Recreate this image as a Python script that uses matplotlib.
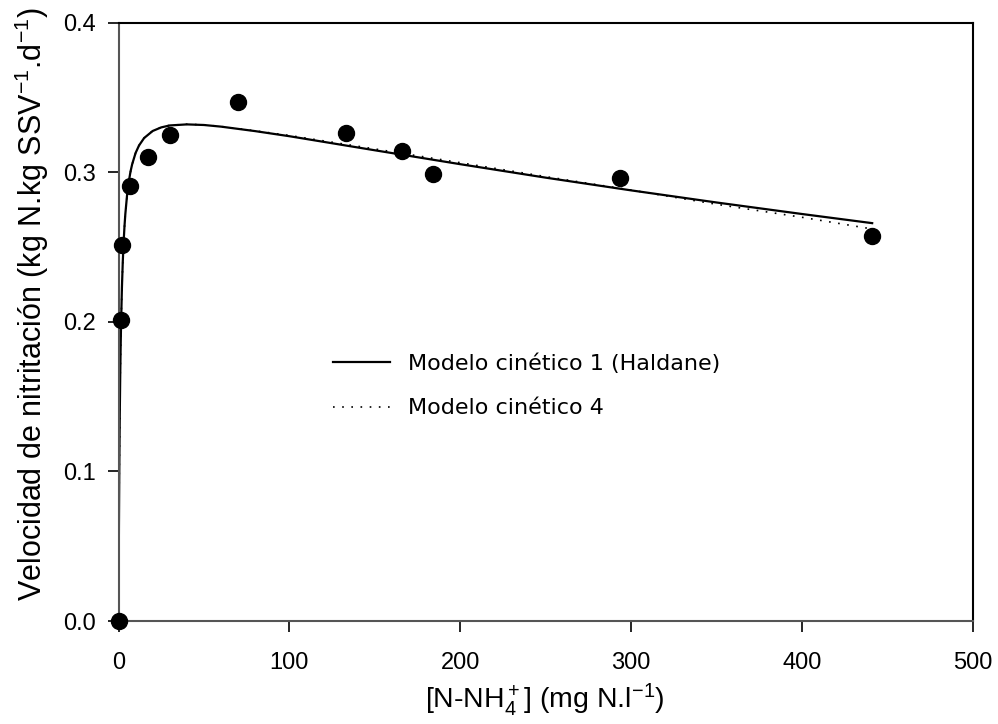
import matplotlib
matplotlib.use("Agg")
import matplotlib.pyplot as plt

# Observed data
conc_obs = [0.0, 1.5, 2.0, 6.7, 17.1, 30.1, 70.1, 133.1, 165.7, 184.2, 293.3, 441.0]
rate_obs = [0.000, 0.201, 0.251, 0.291, 0.310, 0.325, 0.347, 0.326, 0.314, 0.299, 0.296, 0.257]

# Model curves
conc_model = [0, 0.25, 0.5, 0.75, 1, 1.25, 1.5, 2, 2.5, 3, 3.5, 4, 5, 6, 7, 8, 10, 12,
              15, 20, 25, 30, 40, 50, 60, 80, 100, 150, 200, 250, 300, 350, 400, 441]
rate_haldane = [0.0, 0.0627, 0.1064, 0.1385, 0.1632, 0.1827, 0.1986, 0.2227, 0.2401,
                0.2533, 0.2637, 0.2720, 0.2845, 0.2935, 0.3002, 0.3053, 0.3128, 0.3178,
                0.3228, 0.3275, 0.3299, 0.3312, 0.3319, 0.3315, 0.3304, 0.3274, 0.3240,
                0.3146, 0.3053, 0.2963, 0.2878, 0.2797, 0.2720, 0.2659]
rate_model4 = [0.0, 0.0622, 0.1060, 0.1380, 0.1625, 0.1820, 0.1980, 0.2220, 0.2395,
               0.2528, 0.2633, 0.2716, 0.2842, 0.2932, 0.3000, 0.3052, 0.3127, 0.3178,
               0.3228, 0.3276, 0.3300, 0.3313, 0.3320, 0.3316, 0.3305, 0.3276, 0.3245,
               0.3155, 0.3063, 0.2970, 0.2880, 0.2785, 0.2698, 0.2620]

legend_labels = ["Modelo cinético 1 (Haldane)", "Modelo cinético 4"]
x_ticks = [0, 100, 200, 300, 400, 500]
y_ticks = [0.0, 0.1, 0.2, 0.3, 0.4]

plt.rcParams['font.family'] = ['Liberation Sans', 'DejaVu Sans']
plt.rcParams['mathtext.fontset'] = 'custom'
plt.rcParams['mathtext.rm'] = 'Liberation Sans'
plt.rcParams['mathtext.it'] = 'Liberation Sans'
plt.rcParams['mathtext.default'] = 'regular'

fig = plt.figure(figsize=(9.98, 7.24), dpi=100)
ax = fig.add_axes([118.5 / 998, 1 - 621 / 724, (973 - 118.5) / 998, (621 - 22.5) / 724])

ax.plot(conc_model, rate_haldane, color='black', lw=1.6, ls='-', label=legend_labels[0], zorder=2)
ax.plot(conc_model, rate_model4, color='black', lw=1.2, ls=(0, (1, 4.5)), label=legend_labels[1], zorder=2)
ax.plot(conc_obs, rate_obs, 'o', color='black', ms=11.5, zorder=3, clip_on=False)

ax.set_xlim(0, 500)
ax.set_ylim(0, 0.4)
ax.set_xticks(x_ticks)
ax.set_xticklabels([str(t) for t in x_ticks])
ax.set_yticks(y_ticks)
ax.set_yticklabels([f"{t:.1f}" for t in y_ticks])
ax.tick_params(direction='out', length=8, width=1.2, labelsize=17, pad=8)
ax.tick_params(axis='x', pad=14)

for side in ['left', 'bottom']:
    ax.spines[side].set_color('#555555')
    ax.spines[side].set_linewidth(1.5)
for side in ['top', 'right']:
    ax.spines[side].set_color('black')
    ax.spines[side].set_linewidth(1.5)

ax.set_xlabel('[N-NH$_4^+$] (mg N.l$^{-1}$)', fontsize=20.5)
ax.xaxis.set_label_coords((545 - 118.5) / 854.5, -(700 - 621) / 598.5)
ax.xaxis.label.set_va('center')
ax.set_ylabel('Velocidad de nitritación (kg N.kg SSV$^{-1}$.d$^{-1}$)', fontsize=22)
ax.yaxis.set_label_coords(-(118.5 - 32) / 854.5, (621 - 304) / 598.5)
ax.yaxis.label.set_va('center')

leg = ax.legend(loc='center left', bbox_to_anchor=(0.2405, 0.3927), borderaxespad=0,
                frameon=False, handlelength=2.57, handletextpad=0.8, labelspacing=1.1,
                prop={'family': 'DejaVu Sans', 'size': 16})

fig.savefig('out.png', dpi=100)
